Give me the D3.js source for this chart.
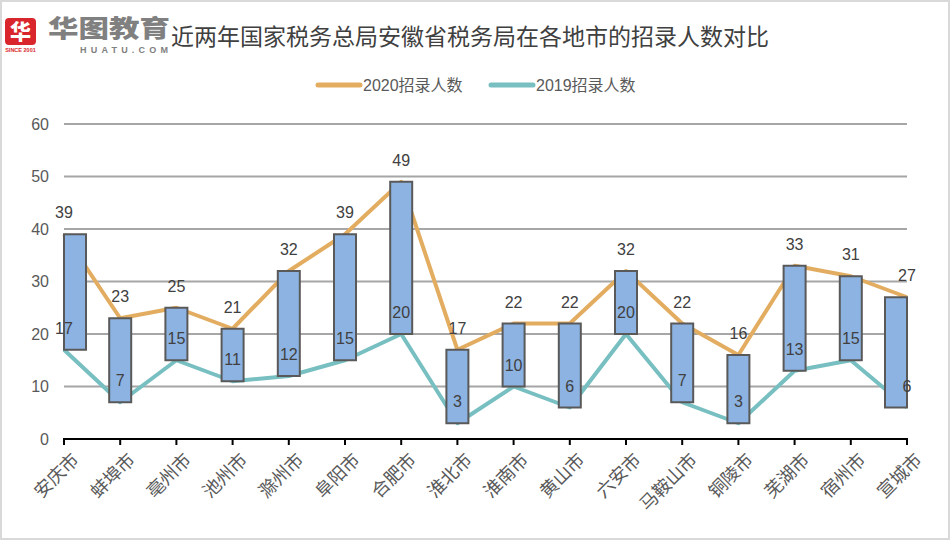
<!DOCTYPE html>
<html><head><meta charset="utf-8">
<script src="https://cdn.jsdelivr.net/npm/d3@7/dist/d3.min.js"></script>
<style>body{margin:0;background:#fff}svg{display:block}</style>
</head><body>
<svg id="c" width="952" height="541"></svg>
<script>
const categories = ["安庆市","蚌埠市","亳州市","池州市","滁州市","阜阳市","合肥市","淮北市","淮南市","黄山市","六安市","马鞍山市","铜陵市","芜湖市","宿州市","宣城市"];
const values2020 = [39,23,25,21,32,39,49,17,22,22,32,22,16,33,31,27];
const values2019 = [17,7,15,11,12,15,20,3,10,6,20,7,3,13,15,6];
const yTicks = [0,10,20,30,40,50,60];
const seriesNames = ["2020招录人数","2019招录人数"];
const title = "近两年国家税务总局安徽省税务局在各地市的招录人数对比";

const FONT = "'Liberation Sans','Noto Sans CJK SC',Arial,sans-serif";
const C2020 = "#E3AD61", C2019 = "#78BFC2";
const svg = d3.select("#c");

// outer border
svg.append("rect").attr("x",1).attr("y",1).attr("width",948).attr("height",538)
  .attr("fill","#fff").attr("stroke","#D9D9D9").attr("stroke-width",2);

// logo
const logo = svg.append("g");
logo.append("rect").attr("x",5).attr("y",18).attr("width",31).attr("height",27).attr("rx",4).attr("fill","#D9262C");
logo.append("text").attr("x",20.5).attr("y",39).attr("text-anchor","middle").attr("fill","#fff")
  .attr("font-family","'Noto Sans CJK SC'").attr("font-weight",900).attr("font-size",21).text("华");
logo.append("text").attr("x",20.5).attr("y",52).attr("text-anchor","middle").attr("fill","#D9262C")
  .attr("font-family",FONT).attr("font-weight",700).attr("font-size",5.5).text("SINCE 2001");
logo.append("text").attr("x",48).attr("y",37).attr("fill","#808080")
  .attr("font-family","'Noto Sans CJK SC'").attr("font-weight",900).attr("font-size",24)
  .attr("textLength",122).attr("lengthAdjust","spacingAndGlyphs").text("华图教育");
logo.append("text").attr("x",80).attr("y",53).attr("fill","#808080")
  .attr("font-family",FONT).attr("font-weight",700).attr("font-size",9)
  .attr("textLength",88).attr("lengthAdjust","spacing").text("HUATU.COM");
svg.append("text").attr("x",171).attr("y",45).attr("fill","#404040")
  .attr("font-family","'Noto Sans CJK SC'").attr("font-size",23).text(title);

// legend
const legend = [{name:seriesNames[0],color:C2020,x:317},{name:seriesNames[1],color:C2019,x:490}];
legend.forEach(l=>{
  svg.append("line").attr("x1",l.x+1).attr("x2",l.x+43).attr("y1",85).attr("y2",85)
    .attr("stroke",l.color).attr("stroke-width",5).attr("stroke-linecap","round");
  svg.append("text").attr("x",l.x+46).attr("y",91).attr("fill","#595959")
    .attr("font-family",FONT).attr("font-size",16).text(l.name);
});

// scales
const x0 = 64, x1 = 907;
const x = d3.scalePoint().domain(categories).range([x0,x1]);
const y = d3.scaleLinear().domain([0,60]).range([439,124]);

// gridlines
svg.append("g").selectAll("line").data(yTicks.filter(d=>d>0)).join("line")
  .attr("x1",x0).attr("x2",x1).attr("y1",d=>y(d)).attr("y2",d=>y(d))
  .attr("stroke","#A6A6A6").attr("stroke-width",2);

// y labels
const yAxis = d3.axisLeft(y).tickValues(yTicks).tickSize(0).tickPadding(15);
const ya = svg.append("g").attr("transform",`translate(${x0},0)`).call(yAxis);
ya.select(".domain").remove();
ya.selectAll("text").attr("font-family",FONT).attr("font-size",16).attr("fill","#595959");

// lines
const data = categories.map((c,i)=>({c,v20:values2020[i],v19:values2019[i]}));
const line20 = d3.line().x(d=>x(d.c)).y(d=>y(d.v20));
const line19 = d3.line().x(d=>x(d.c)).y(d=>y(d.v19));
svg.append("path").datum(data).attr("d",line20).attr("fill","none").attr("stroke",C2020).attr("stroke-width",4).attr("stroke-linejoin","round");
svg.append("path").datum(data).attr("d",line19).attr("fill","none").attr("stroke",C2019).attr("stroke-width",4).attr("stroke-linejoin","round");

// up-down bars
const bw = 22;
svg.append("g").selectAll("rect").data(data).join("rect")
  .attr("x",(d,i)=>{ const cx=x(d.c); if(i===0) return cx; if(i===data.length-1) return cx-bw; return cx-bw/2; })
  .attr("y",d=>y(Math.max(d.v20,d.v19)))
  .attr("width",bw)
  .attr("height",d=>Math.abs(y(d.v20)-y(d.v19)))
  .attr("fill","#8DB3E2").attr("stroke","#595959").attr("stroke-width",2);

// x axis
const xa = svg.append("g").attr("transform","translate(0,439)");
xa.append("line").attr("x1",x0-1).attr("x2",x1+1).attr("y1",0).attr("y2",0).attr("stroke","#000").attr("stroke-width",2);
xa.selectAll("line.t").data(categories).join("line").attr("class","t")
  .attr("x1",d=>x(d)).attr("x2",d=>x(d)).attr("y1",0).attr("y2",6).attr("stroke","#000").attr("stroke-width",2);
xa.selectAll("text").data(categories).join("text")
  .attr("transform",d=>`translate(${x(d)+7},${13}) rotate(-45)`)
  .attr("text-anchor","end").attr("dy","0.7em")
  .attr("font-family",FONT).attr("font-size",18).attr("fill","#595959").text(d=>d);

// labels
const lbl = svg.append("g").attr("font-family",FONT).attr("font-size",16).attr("fill","#404040").attr("text-anchor","middle");
lbl.selectAll("text.a").data(data).join("text").attr("class","a")
  .attr("x",d=>x(d.c)).attr("y",d=>y(d.v20)-16).text(d=>d.v20);
lbl.selectAll("text.b").data(data).join("text").attr("class","b")
  .attr("x",d=>x(d.c)).attr("y",d=>y(d.v19)-16).text(d=>d.v19);
</script>
</body></html>
